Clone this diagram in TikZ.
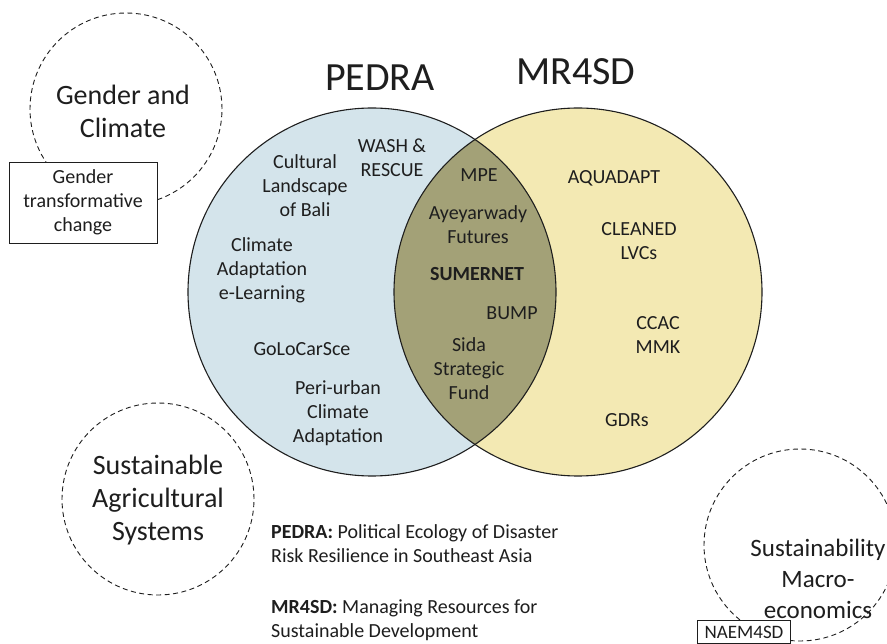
\documentclass[tikz,border=0pt]{standalone}
\usepackage{fontspec}
\setmainfont{Carlito}
\definecolor{pedrafill}{HTML}{D4E4EB}
\definecolor{mrfill}{HTML}{F3E9B3}
\definecolor{lensfill}{HTML}{A3A177}
\definecolor{ink}{HTML}{1E1E1E}
\begin{document}
\begin{tikzpicture}[x=1pt,y=-1pt,
  ring/.style={draw=ink,line width=1.1pt},
  topic/.style={circle,draw=ink,line width=0.9pt,dash pattern=on 5pt off 3.5pt,inner sep=0pt},
  topictext/.style={font=\fontsize{28}{33}\selectfont,align=center,inner sep=0pt,text=ink},
  title/.style={font=\fontsize{40}{44}\selectfont,inner sep=0pt,text=ink},
  lbl/.style={font=\fontsize{20}{24}\selectfont,align=center,inner sep=0pt,text=ink},
  tagbox/.style={draw=ink,line width=0.9pt,fill=white,align=center,inner sep=0pt,text=ink},
  legend/.style={font=\fontsize{20}{24}\selectfont,align=left,inner sep=0pt,anchor=west,text=ink}]
\useasboundingbox (0,0) rectangle (887,644);
\fill[white] (0,0) rectangle (887,644);

% the two project circles and their overlap
\coordinate (cL) at (372,292);
\coordinate (cR) at (578,292);
\fill[pedrafill] (cL) circle[radius=184pt];
\fill[mrfill] (cR) circle[radius=184pt];
\begin{scope}
  \clip (cL) circle[radius=184pt];
  \fill[lensfill] (cR) circle[radius=184pt];
\end{scope}
\draw[ring] (cL) circle[radius=184pt];
\draw[ring] (cR) circle[radius=184pt];

\node[title] (tPEDRA) at (380,78) {PEDRA};
\node[title] (tMR) at (576,72) {MR4SD};

% PEDRA projects
\node[lbl] (bali) at (305,186) {Cultural\\Landscape\\of Bali};
\node[lbl] (wash) at (392,158) {WASH \&\\RESCUE};
\node[lbl] (cael) at (262,270) {Climate\\Adaptation\\e-Learning};
\node[lbl] (golo) at (302,349) {GoLoCarSce};
\node[lbl] (peri) at (338,413) {Peri-urban\\Climate\\Adaptation};

% shared projects
\node[lbl] (mpe) at (479,175) {MPE};
\node[lbl] (ayey) at (478,225) {Ayeyarwady\\Futures};
\node[lbl,font=\fontsize{20}{24}\selectfont\bfseries] (sumer) at (477,274) {SUMERNET};
\node[lbl] (bump) at (512,313) {BUMP};
\node[lbl] (sida) at (469,369) {Sida\\Strategic\\Fund};

% MR4SD projects
\node[lbl] (aqua) at (614,178) {AQUADAPT};
\node[lbl] (clean) at (639,241) {CLEANED\\LVCs};
\node[lbl] (ccac) at (658,335) {CCAC\\MMK};
\node[lbl] (gdr) at (627,420) {GDRs};

% cross-cutting themes
\node[topic,minimum size=192pt] (gender) at (126,109) {};
\node[topictext] (genderT) at (123,111) {Gender and\\Climate};
\node[tagbox,minimum width=148pt,minimum height=81pt,font=\fontsize{20}{24}\selectfont] (gtc) at (83,202.5) {Gender\\transformative\\change};

\node[topic,minimum size=192pt] (agri) at (158,499) {};
\node[topictext] (agriT) at (158,500) {Sustainable\\Agricultural\\Systems};

\node[topic,minimum size=192pt] (macro) at (800,545) {};
\node[topictext,font=\fontsize{25}{31}\selectfont] (macroT) at (818,579) {Sustainability\\Macro-\\economics};
\node[tagbox,minimum width=93pt,minimum height=23pt,font=\fontsize{19}{22}\selectfont] (naem) at (744,632) {NAEM4SD};

% legend
\node[legend] (legP) at (271,544) {\textbf{PEDRA:} Political Ecology of Disaster\\Risk Resilience in Southeast Asia};
\node[legend] (legM) at (271,620) {\textbf{MR4SD:} Managing Resources for\\Sustainable Development};
\end{tikzpicture}
\end{document}
